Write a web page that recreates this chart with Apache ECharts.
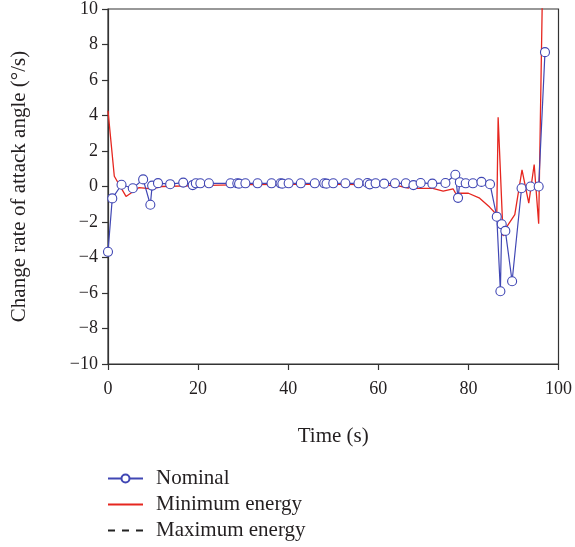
<!DOCTYPE html>
<html><head><meta charset="utf-8">
<script src="https://cdn.jsdelivr.net/npm/echarts@6/dist/echarts.min.js"></script>
<style>html,body{margin:0;padding:0;background:#fff}#c{width:575px;height:547px}</style>
</head><body><div id="c"></div>
<script>
var nominalX = [0,0.95,3.0,5.5,7.8,9.4,9.8,11.1,13.8,16.7,18.8,19.5,20.5,22.4,27.2,28.7,29.1,30.5,33.2,36.3,38.3,38.7,40.1,42.8,45.9,48.0,48.5,50.0,52.7,55.6,57.6,58.1,59.4,61.3,63.7,66.1,67.8,69.4,72.0,74.9,77.1,77.7,78.1,79.4,81.0,82.9,84.8,86.3,87.1,87.4,88.2,89.7,91.8,93.8,95.6,97.0];
var nominalY = [-3.68,-0.67,0.1,-0.1,0.4,-1.03,0.05,0.19,0.13,0.22,0.08,0.18,0.18,0.18,0.18,0.18,0.16,0.18,0.18,0.18,0.18,0.16,0.18,0.18,0.18,0.18,0.16,0.18,0.18,0.18,0.2,0.12,0.18,0.16,0.18,0.18,0.08,0.2,0.16,0.2,0.66,-0.64,0.24,0.18,0.18,0.26,0.13,-1.7,-5.9,-2.13,-2.5,-5.34,-0.1,0.0,0.0,7.57];
var minX = [0,1.4,4.0,6.9,9.7,11.9,20,30,40,50,60,64.7,66.7,67.6,68.6,72.1,74.4,76.6,77.3,78.0,80.0,82.5,84.7,86.3,86.6,87.7,88.5,90.3,91.9,93.4,94.6,95.6,96.4];
var minY = [4.27,0.58,-0.56,-0.06,-0.13,0.0,0.05,0.1,0.12,0.12,0.1,0.02,-0.09,0.2,-0.1,-0.1,-0.26,-0.13,-0.45,-0.37,-0.38,-0.66,-1.16,-1.59,3.9,-2.79,-2.28,-1.59,0.94,-0.94,1.24,-2.1,10.5];
var maxX = [];
var maxY = [];
var seriesNames = ['Nominal','Minimum energy','Maximum energy'];
var xTicks = {min:0,max:100,interval:20};
var yTicks = {min:-10,max:10,interval:2};

function pairs(xs, ys){ return xs.map(function(x,i){return [x, ys[i]];}); }
var FONT = '"Liberation Serif", "DejaVu Serif", serif';
var TXT = '#231f20';
var AX = '#333333';
var chart = echarts.init(document.getElementById('c'));
chart.setOption({
  animation:false,
  textStyle:{fontFamily:FONT},
  grid:{left:108,right:16,top:8,bottom:183,show:true,borderColor:AX,borderWidth:1.2,backgroundColor:'transparent'},
  legend:{
    orient:'vertical',left:102,top:463,itemWidth:35,itemHeight:10,itemGap:5,
    textStyle:{fontFamily:FONT,fontSize:21,color:TXT,padding:[0,0,0,8]},
    data:[
      {name:seriesNames[0]},
      {name:seriesNames[1],itemStyle:{opacity:0}},
      {name:seriesNames[2],itemStyle:{opacity:0},lineStyle:{type:[7,7]}}
    ]
  },
  xAxis:{
    type:'value',min:xTicks.min,max:xTicks.max,interval:xTicks.interval,
    name:'Time (s)',nameLocation:'middle',nameGap:62,
    nameTextStyle:{fontFamily:FONT,fontSize:21,color:TXT},
    axisLine:{show:true,onZero:false,lineStyle:{color:AX,width:1.2}},
    axisTick:{show:true,inside:false,length:6,lineStyle:{color:AX,width:1.2}},
    axisLabel:{fontFamily:FONT,fontSize:18,color:TXT,margin:16},
    splitLine:{show:false}
  },
  yAxis:{
    type:'value',min:yTicks.min,max:yTicks.max,interval:yTicks.interval,
    name:'Change rate of attack angle (°/s)',nameLocation:'middle',nameGap:78,
    nameTextStyle:{fontFamily:FONT,fontSize:21,color:TXT},
    axisLine:{show:true,onZero:false,lineStyle:{color:AX,width:1.2}},
    axisTick:{show:true,inside:false,length:6,lineStyle:{color:AX,width:1.2}},
    axisLabel:{fontFamily:FONT,fontSize:18,color:TXT,margin:10,
      formatter:function(v){return String(v).replace('-','\u2212');}},
    splitLine:{show:false}
  },
  series:[
    {name:seriesNames[1],type:'line',data:pairs(minX,minY),showSymbol:false,symbol:'none',
     lineStyle:{color:'#e6261f',width:1.3},itemStyle:{color:'#e6261f'},z:2},
    {name:seriesNames[0],type:'line',data:pairs(nominalX,nominalY),symbol:'circle',symbolSize:9,showAllSymbol:true,
     lineStyle:{color:'#4047b4',width:1.2},itemStyle:{color:'#ffffff',borderColor:'#4047b4',borderWidth:1.1,opacity:1},z:3},
    {name:seriesNames[2],type:'line',data:pairs(maxX,maxY),symbol:'none',
     lineStyle:{color:'#222',width:1.2,type:[5,5]},itemStyle:{color:'#222'},z:1}
  ]
});
</script></body></html>
